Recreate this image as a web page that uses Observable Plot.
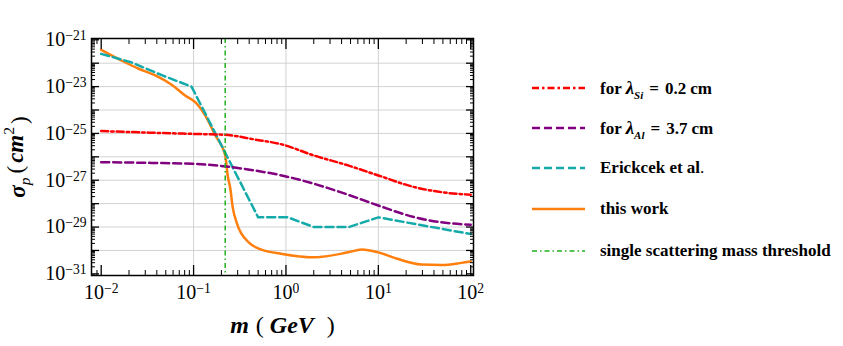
<!DOCTYPE html>
<html><head><meta charset="utf-8">
<script src="https://cdn.jsdelivr.net/npm/d3@7"></script>
<script src="https://cdn.jsdelivr.net/npm/@observablehq/plot@0.6"></script>
<style>
body{margin:0;background:#fff;}
#wrap{position:relative;width:843px;height:346px;overflow:hidden;font-family:"Liberation Serif","Times New Roman",serif;background:#fff;}
#chart{position:absolute;left:0;top:0;}
.leg{position:absolute;left:532px;height:22px;display:flex;align-items:center;font-weight:bold;font-size:17px;white-space:nowrap;color:#000;}
.leg svg{margin-right:15px;flex:none;}
.lam{font-style:italic;font-size:19px;}
.sub{font-style:italic;font-size:11px;position:relative;top:5px;font-weight:bold;}
.eq{margin:0 6px;}
.cm{margin-left:4px;}
</style></head><body>
<div id="wrap"><div id="chart"></div><div id="legend"></div></div>
<script>
// ---- data ----
const mRed = [0.01, 0.035, 0.1, 0.22, 0.46, 0.9, 2, 4.7, 10, 25, 48, 100];
const sRed = [1.26e-25, 1.07e-25, 9.5e-26, 8.7e-26, 5.5e-26, 3.4e-26, 1.15e-26, 4.3e-27, 1.6e-27, 5.0e-28, 3.1e-28, 2.4e-28];

const mPurple = [0.01, 0.035, 0.1, 0.22, 0.46, 0.9, 2, 4.7, 10, 25, 48, 100];
const sPurple = [5.9e-27, 5.5e-27, 5.0e-27, 3.9e-27, 2.6e-27, 1.6e-27, 7.1e-28, 2.4e-28, 8.3e-29, 2.6e-29, 1.6e-29, 1.26e-29];

const mCyan = [0.01, 0.021, 0.046, 0.095, 0.5, 1.05, 2.0, 4.8, 10, 100];
const sCyan = [2.5e-22, 1.1e-22, 3.0e-23, 1.0e-23, 2.6e-29, 2.6e-29, 1.0e-29, 1.0e-29, 2.6e-29, 5.0e-30];

const mOrange = [0.01, 0.0166, 0.0254, 0.0385, 0.058, 0.081, 0.105, 0.134, 0.172, 0.22, 0.234, 0.25, 0.265, 0.295, 0.395, 0.507, 0.91, 2.04, 4.7, 6.6, 10, 16, 29, 48, 79, 100];
const sOrange = [3.7e-22, 1.3e-22, 5.8e-23, 3.0e-23, 1.2e-23, 4.2e-24, 2.1e-24, 5.8e-25, 8.1e-26, 1.15e-26, 1.6e-27, 4.3e-28, 7.1e-29, 1.4e-29, 2.2e-30, 1.2e-30, 7.1e-31, 5.1e-31, 8.3e-31, 1.1e-30, 8.3e-31, 4.4e-31, 2.5e-31, 2.4e-31, 2.95e-31, 3.4e-31];

const mThreshold = [0.22];

const xTicks = [1e-2, 1e-1, 1e0, 1e1, 1e2];
const yLabelTicks = [1e-31, 1e-29, 1e-27, 1e-25, 1e-23, 1e-21];
const yDecades = [1e-31,1e-30,1e-29,1e-28,1e-27,1e-26,1e-25,1e-24,1e-23,1e-22,1e-21];
const xGridTicks = [1e-1, 1e0, 1e1];
const yGridTicks = [1e-30,1e-29,1e-28,1e-27,1e-26,1e-25,1e-24,1e-23,1e-22];

const legendLabels = ["for λ_Si = 0.2 cm", "for λ_Al = 3.7 cm", "Erickcek et al.", "this work", "single scattering mass threshold"];

// ---- styles ----
const C = {red:"#ff0000", purple:"#800080", cyan:"#14aaaa", orange:"#ff7f0e", green:"#1fb21f"};
const S = {
  red:{stroke:C.red, strokeWidth:2.5, strokeDasharray:"7,3,2.5,3"},
  purple:{stroke:C.purple, strokeWidth:2.5, strokeDasharray:"8,4"},
  cyan:{stroke:C.cyan, strokeWidth:2.5, strokeDasharray:"8,4"},
  orange:{stroke:C.orange, strokeWidth:2.5},
  green:{stroke:C.green, strokeWidth:1.5, strokeDasharray:"5,3,1.5,3"}
};

const rows = (ms, ss) => ms.map((m,i) => ({m, s: ss[i]}));
const xDomain = [Math.pow(10,-2.105), Math.pow(10,2.03)];
const yDomain = [Math.pow(10,-31.07), Math.pow(10,-20.945)];
const inX = v => v > xDomain[0]*1.02 && v < xDomain[1]/1.02;
const inY = v => v > yDomain[0]*1.02 && v < yDomain[1]/1.02;
const xMinor = [], yMinor = [];
for (let e = -3; e <= 2; e++) for (let k = 2; k <= 9; k++) { const v = k*Math.pow(10,e); if (inX(v)) xMinor.push(v); }
for (let e = -32; e <= -21; e++) for (let k = 2; k <= 9; k++) { const v = k*Math.pow(10,e); if (inY(v)) yMinor.push(v); }
const fmt = d => "10^" + Math.round(Math.log10(d));

const plot = Plot.plot({
  width: 490, height: 346,
  marginLeft: 91, marginRight: 17, marginTop: 38, marginBottom: 71,
  style: {fontFamily: "'Liberation Serif', 'Times New Roman', serif", fontSize: "20px", color: "black", background: "transparent", overflow: "visible"},
  x: {type: "log", domain: xDomain},
  y: {type: "log", domain: yDomain},
  marks: [
    Plot.gridY(yGridTicks, {stroke: "#d2d2d2", strokeOpacity: 1, strokeWidth: 1}),
    Plot.gridX(xGridTicks, {stroke: "#d2d2d2", strokeOpacity: 1, strokeWidth: 1}),
    Plot.line(rows(mOrange, sOrange), {x: "m", y: "s", ...S.orange, curve: "monotone-x", clip: true}),
    Plot.line(rows(mCyan, sCyan), {x: "m", y: "s", ...S.cyan, clip: true}),
    Plot.line(rows(mPurple, sPurple), {x: "m", y: "s", ...S.purple, curve: "monotone-x", clip: true}),
    Plot.line(rows(mRed, sRed), {x: "m", y: "s", ...S.red, curve: "monotone-x", clip: true}),
    Plot.ruleX(mThreshold, S.green),
    Plot.frame({stroke: "black", strokeWidth: 1.5}),
    Plot.axisX(xTicks, {anchor: "bottom", tickSize: -10, strokeWidth: 1.3, fill: "none", label: null}),
    Plot.axisX(xMinor, {anchor: "bottom", tickSize: -5, strokeWidth: 1, fill: "none", label: null}),
    Plot.axisX(xTicks, {anchor: "top", tickSize: -10, strokeWidth: 1.3, fill: "none", label: null}),
    Plot.axisX(xMinor, {anchor: "top", tickSize: -5, strokeWidth: 1, fill: "none", label: null}),
    Plot.axisY(yDecades, {anchor: "left", tickSize: -8, strokeWidth: 1.3, fill: "none", label: null}),
    Plot.axisY(yMinor, {anchor: "left", tickSize: -4, strokeWidth: 1, fill: "none", label: null}),
    Plot.axisY(yDecades, {anchor: "right", tickSize: -8, strokeWidth: 1.3, fill: "none", label: null}),
    Plot.axisY(yMinor, {anchor: "right", tickSize: -4, strokeWidth: 1, fill: "none", label: null}),
    Plot.axisX(xTicks, {anchor: "bottom", tickSize: 0, tickPadding: 9, tickFormat: fmt, label: "m ( GeV )", labelAnchor: "center", labelOffset: 57, labelArrow: "none"}),
    Plot.axisY(yLabelTicks, {anchor: "left", tickSize: 0, tickPadding: 5, tickFormat: fmt, label: "σp ( cm2 )", labelAnchor: "center", labelOffset: 83, labelArrow: "none"})
  ]
});
document.getElementById("chart").appendChild(plot);

// superscripts & label styling
d3.select(plot).selectAll("text").each(function() {
  const t = this.textContent;
  const m = /^10\^(-?\d+)$/.exec(t);
  const el = d3.select(this);
  if (m) {
    el.text("10");
    el.append("tspan").attr("dy", "-0.45em").attr("font-size", "0.68em").text(m[1].replace("-", "\u2212"));
  } else if (t.indexOf("GeV") >= 0) {
    el.text(null).attr("font-size", "24px");
    el.append("tspan").attr("font-weight", "bold").attr("font-style", "italic").text("m");
    el.append("tspan").attr("dx", 7).text("(");
    el.append("tspan").attr("dx", 6).attr("font-weight", "bold").attr("font-style", "italic").text("GeV");
    el.append("tspan").attr("dx", 13).text(")");
  } else if (t.indexOf("cm") >= 0) {
    el.text(null).attr("font-size", "23px");
    el.append("tspan").attr("font-weight", "bold").attr("font-style", "italic").text("σ");
    el.append("tspan").attr("font-style", "italic").attr("font-size", "0.68em").attr("dy", "0.3em").text("p");
    el.append("tspan").attr("dx", 4).attr("dy", "-0.3em").text("(");
    el.append("tspan").attr("dx", 3).attr("font-weight", "bold").attr("font-style", "italic").text("cm");
    el.append("tspan").attr("font-size", "0.68em").attr("dy", "-0.55em").text("2");
    el.append("tspan").attr("dx", 3).attr("dy", "0.55em").text(")");
  }
});

// legend
const legendStyles = [S.red, S.purple, S.cyan, S.orange, S.green];
const legendCenters = [88, 128, 168, 209, 251];
const legendHTML = [
  'for <span class="lam">λ</span><span class="sub">Si</span><span class="eq">=</span>0.2<span class="cm">cm</span>',
  'for <span class="lam">λ</span><span class="sub">Al</span><span class="eq">=</span>3.7<span class="cm">cm</span>',
  'Erickcek et al<span style="font-weight:normal">.</span>',
  'this work',
  'single scattering mass threshold'
];
const leg = document.getElementById("legend");
legendLabels.forEach((lab, i) => {
  const st = legendStyles[i];
  const div = document.createElement("div");
  div.className = "leg";
  div.style.top = (legendCenters[i] - 11) + "px";
  div.setAttribute("aria-label", lab);
  div.innerHTML = `<svg width="53" height="10"><line x1="0" y1="5" x2="53" y2="5" stroke="${st.stroke}" stroke-width="${st.strokeWidth}" ${st.strokeDasharray ? `stroke-dasharray="${st.strokeDasharray}"` : ""}/></svg><span>${legendHTML[i]}</span>`;
  leg.appendChild(div);
});
</script>
</body></html>
